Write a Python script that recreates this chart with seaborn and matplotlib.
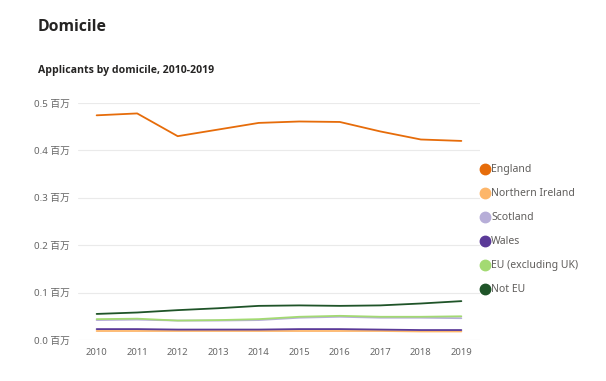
import pandas as pd
import numpy as np
import matplotlib
matplotlib.use("Agg")
import matplotlib.pyplot as plt
import seaborn as sns
from matplotlib.lines import Line2D

years = [2010, 2011, 2012, 2013, 2014, 2015, 2016, 2017, 2018, 2019]
england = [0.474, 0.478, 0.430, 0.444, 0.458, 0.461, 0.460, 0.440, 0.423, 0.420]
northern_ireland = [0.019, 0.019, 0.019, 0.019, 0.019, 0.019, 0.019, 0.019, 0.018, 0.018]
scotland = [0.042, 0.043, 0.041, 0.041, 0.042, 0.047, 0.049, 0.047, 0.047, 0.046]
wales = [0.023, 0.023, 0.022, 0.022, 0.022, 0.023, 0.023, 0.022, 0.021, 0.021]
eu = [0.044, 0.045, 0.041, 0.042, 0.044, 0.049, 0.051, 0.049, 0.049, 0.050]
not_eu = [0.055, 0.058, 0.063, 0.067, 0.072, 0.073, 0.072, 0.073, 0.077, 0.082]

names = ["England", "Northern Ireland", "Scotland", "Wales", "EU (excluding UK)", "Not EU"]
colors = ["#E66C0A", "#FDB66A", "#B7AED8", "#5B3A98", "#A3DA72", "#1F5428"]

series = [england, northern_ireland, scotland, wales, eu, not_eu]
df = pd.concat([pd.DataFrame({"year": years, "value": v, "domicile": n})
                for n, v in zip(names, series)])

sns.set_style("white")
plt.rcParams['font.family'] = ['Noto Sans', 'Noto Sans CJK SC', 'DejaVu Sans']
title_font = ['Open Sans', 'DejaVu Sans']

fig = plt.figure(figsize=(6.06, 3.81), dpi=100)
ax = fig.add_axes([78/606, 1-340/381, (480-78)/606, (340-103)/381])

sns.lineplot(data=df, x="year", y="value", hue="domicile", palette=colors,
             hue_order=names, linewidth=1.3, ax=ax, legend=False)

ax.set_xlim(2010 - 0.46, 2019 + 0.46)
ax.set_ylim(0, 0.5)
ax.set_xticks(years)
ax.set_xticklabels([str(y) for y in years], fontsize=6.8, color="#666666")
yt = [0.0, 0.1, 0.2, 0.3, 0.4, 0.5]
ax.set_yticks(yt)
ax.set_yticklabels([f"{v:.1f} 百万" for v in yt], fontsize=7, color="#666666")
ax.tick_params(axis="both", length=0, pad=6)
ax.grid(axis="y", color="#EAEAEA", linewidth=0.8)
ax.set_axisbelow(True)
for s in ax.spines.values():
    s.set_visible(False)
ax.set_xlabel("")
ax.set_ylabel("")
ax.patch.set_alpha(0)
for line in ax.lines:
    line.set_clip_on(False)

fig.text(38/606, 1-27/381, "Domicile", fontsize=11.3, fontweight="bold",
         color="#252423", va="center", family=title_font)
fig.text(38/606, 1-71/381, "Applicants by domicile, 2010-2019", fontsize=7.6,
         fontweight="bold", color="#252423", va="center", family=title_font)

handles = [Line2D([], [], marker="o", linestyle="", markersize=7.5, color=c)
           for c in colors]
fig.legend(handles, names, loc="upper left", bbox_to_anchor=(476/606, 1-160/381),
           frameon=False, fontsize=7.5, labelcolor="#605E5C", handletextpad=0.05,
           labelspacing=1.25, handlelength=1.0, borderaxespad=0)

fig.savefig("out.png", dpi=100)
